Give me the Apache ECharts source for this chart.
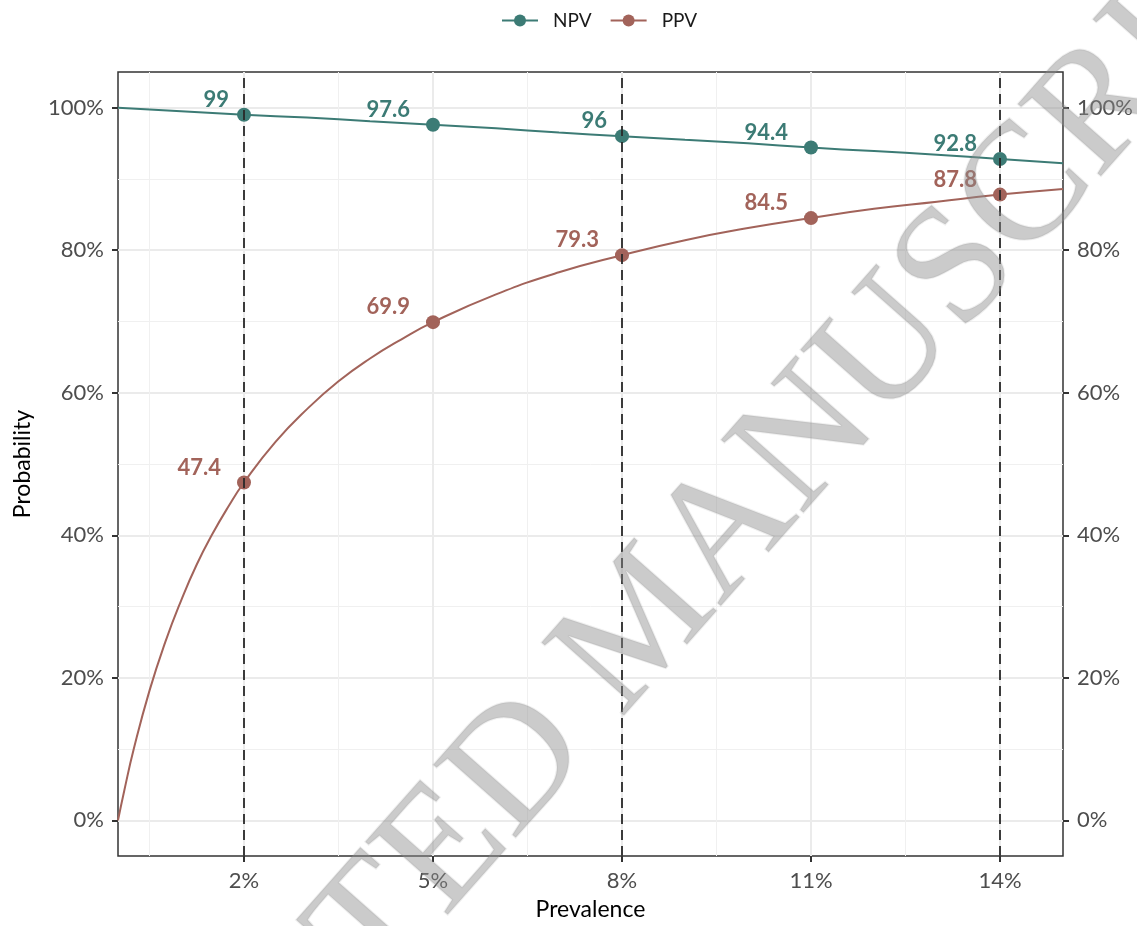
<!DOCTYPE html>
<html>
<head>
<meta charset="utf-8">
<script src="https://cdn.jsdelivr.net/npm/echarts@6/dist/echarts.min.js"></script>
<style>
  html, body { margin: 0; padding: 0; background: #fff; }
  #chart { width: 1137px; height: 926px; }
</style>
</head>
<body>
<div id="chart"></div>
<script>
// values (prevalence in %, probability in %)
const prevNPV = [0, 1, 2, 3, 4, 5, 6, 7, 8, 9, 10, 11, 12, 13, 14, 15];
const npvValues = [100, 99.5, 99.0, 98.6, 98.1, 97.6, 97.1, 96.5, 96.0, 95.5, 95.0, 94.4, 93.9, 93.4, 92.8, 92.2];

const prevPPV = [0, 0.1, 0.25, 0.5, 0.75, 1, 1.25, 1.5, 1.75, 2, 2.5, 3, 3.5, 4, 4.5, 5, 6, 7, 8, 9, 10, 11, 12, 13, 14, 15];
const ppvValues = [0, 4.2, 10.0, 18.2, 25.0, 30.8, 35.9, 40.2, 44.0, 47.4, 53.1, 57.7, 61.6, 64.8, 67.5, 69.9, 73.8, 76.9, 79.3, 81.4, 83.1, 84.5, 85.8, 86.8, 87.8, 88.6];

const markPrev = [2, 5, 8, 11, 14];
const npvLabels = ['99', '97.6', '96', '94.4', '92.8'];
const ppvLabels = ['47.4', '69.9', '79.3', '84.5', '87.8'];

// dashed reference lines
const cutPrev = [2, 8, 14];

const xTicks = [2, 5, 8, 11, 14];
const xMinor = [0.5, 3.5, 6.5, 9.5, 12.5];
const yTicks = [0, 20, 40, 60, 80, 100];
const yMinor = [10, 30, 50, 70, 90];

const FONT = 'Lato, "Noto Sans", sans-serif';
const TEAL = '#3c7b75';
const BROWN = '#a2635a';

function buildData(xs, ys, labels, color) {
  return xs.map((x, i) => {
    const k = markPrev.indexOf(x);
    if (k < 0) return { value: [x, ys[i]], symbol: 'none' };
    const txt = labels[k];
    return {
      value: [x, ys[i]],
      symbol: 'circle',
      label: {
        show: true,
        position: 'left',
        distance: txt.length <= 2 ? 8 : 16,
        offset: [0, -15],
        formatter: txt,
        color: color,
        fontSize: 22,
        fontWeight: 'bold',
        fontFamily: FONT
      }
    };
  });
}

const noLine = { show: false, onZero: false };
const tickStyle = { length: 6, lineStyle: { color: '#333', width: 2 } };
const labelStyle = { color: '#4d4d4d', fontSize: 22, fontFamily: FONT, margin: 14 };
const titleStyle = { fontSize: 23, color: '#000', fontFamily: FONT };

const chart = echarts.init(document.getElementById('chart'), null, { renderer: 'canvas' });

chart.setOption({
  animation: false,
  backgroundColor: '#fff',
  grid: {
    left: 118, right: 74, top: 72, bottom: 68,
    show: true, borderColor: '#333', borderWidth: 1.5, backgroundColor: 'transparent'
  },
  legend: {
    data: ['NPV', 'PPV'],
    left: 496, top: 6,
    itemWidth: 36, itemHeight: 15, itemGap: 18,
    textStyle: { fontSize: 19, color: '#1a1a1a', fontFamily: FONT, padding: [0, 0, 0, 10] }
  },
  xAxis: [
    {
      type: 'value', min: 0, max: 15, position: 'bottom',
      axisLine: noLine,
      axisTick: Object.assign({ show: true, customValues: xTicks }, tickStyle),
      axisLabel: Object.assign({ customValues: xTicks, formatter: v => v + '%' }, labelStyle),
      splitLine: { show: true, lineStyle: { color: '#ebebeb', width: 2 } },
      name: 'Prevalence', nameLocation: 'middle', nameGap: 42,
      nameTextStyle: titleStyle
    },
    {
      type: 'value', min: 0, max: 15, position: 'top',
      axisLine: noLine,
      axisTick: { show: false, customValues: xMinor },
      axisLabel: { show: false },
      splitLine: { show: true, lineStyle: { color: '#f0f0f0', width: 1 } }
    }
  ],
  yAxis: [
    {
      type: 'value', min: -5, max: 105, position: 'left',
      axisLine: noLine,
      axisTick: Object.assign({ show: true, customValues: yTicks }, tickStyle),
      axisLabel: Object.assign({ customValues: yTicks, formatter: v => v + '%' }, labelStyle),
      splitLine: { show: true, lineStyle: { color: '#ebebeb', width: 2 } },
      name: 'Probability', nameLocation: 'middle', nameGap: 84,
      nameTextStyle: titleStyle
    },
    {
      type: 'value', min: -5, max: 105, position: 'right',
      axisLine: noLine,
      axisTick: Object.assign({ show: true, customValues: yTicks }, tickStyle),
      axisLabel: Object.assign({ customValues: yTicks, formatter: v => v + '%' }, labelStyle),
      splitLine: { show: false }
    },
    {
      type: 'value', min: -5, max: 105, position: 'left',
      axisLine: noLine,
      axisTick: { show: false, customValues: yMinor },
      axisLabel: { show: false },
      splitLine: { show: true, lineStyle: { color: '#f0f0f0', width: 1 } }
    }
  ],
  series: [
    {
      name: 'NPV', type: 'line', smooth: true,
      data: buildData(prevNPV, npvValues, npvLabels, TEAL),
      symbol: 'circle', symbolSize: 14, showAllSymbol: true,
      itemStyle: { color: TEAL },
      lineStyle: { color: TEAL, width: 2 },
      z: 3
    },
    {
      name: 'PPV', type: 'line', smooth: true,
      data: buildData(prevPPV, ppvValues, ppvLabels, BROWN),
      symbol: 'circle', symbolSize: 14, showAllSymbol: true,
      itemStyle: { color: BROWN },
      lineStyle: { color: BROWN, width: 2 },
      z: 3
    },
    {
      name: 'cut', type: 'line', data: [], z: 4,
      markLine: {
        silent: true, symbol: 'none', animation: false,
        label: { show: false },
        lineStyle: { color: 'rgba(40,40,40,0.9)', width: 2, type: [10, 6] },
        data: cutPrev.map(v => ({ xAxis: v }))
      }
    }
  ],
  graphic: [
    {
      type: 'text', x: 645, y: 625, rotation: 48.5 * Math.PI / 180,
      silent: true, z: 100,
      style: {
        text: 'ACCEPTED MANUSCRIPT',
        fontSize: 168, fontFamily: '"Liberation Serif", serif',
        fill: 'rgba(140,140,140,0.45)',
        stroke: 'rgba(120,120,120,0.12)', lineWidth: 2,
        align: 'center', verticalAlign: 'middle'
      }
    }
  ]
});
</script>
</body>
</html>
